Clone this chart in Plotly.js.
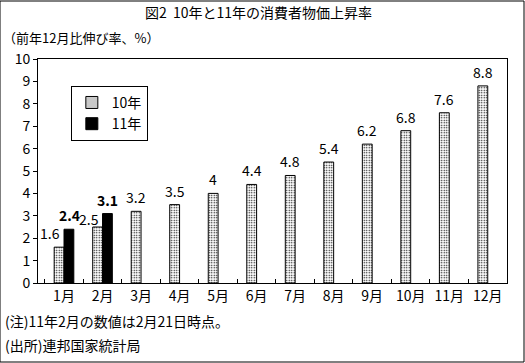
<!DOCTYPE html>
<html><head><meta charset="utf-8">
<script src="https://cdn.plot.ly/plotly-3.0.1.min.js"></script>
<style>html,body{margin:0;padding:0;background:#fff}#c{width:525px;height:363px}</style>
</head><body><div id="c"></div>
<script>
const months = ['1月','2月','3月','4月','5月','6月','7月','8月','9月','10月','11月','12月'];
const cpi2010 = [1.6,2.5,3.2,3.5,4,4.4,4.8,5.4,6.2,6.8,7.6,8.8];
const cpi2011 = [2.4,3.1,null,null,null,null,null,null,null,null,null,null];
const seriesNames = ['10年','11年'];

const F = '"Noto Sans CJK JP", "MS PGothic", sans-serif';
const traces = [
  {type:'bar', name:seriesNames[0], x:months, y:cpi2010,
   marker:{color:'#fff', line:{color:'#000', width:1},
     pattern:{shape:'.', fgcolor:'#000', bgcolor:'#fff', size:2.5, solidity:0.25}}},
  {type:'bar', name:seriesNames[1], x:months, y:cpi2011,
   marker:{color:'#000', line:{color:'#000', width:1}}}
];

// label placement tweaks (pixels)
const extraShift = {'0-0':[-9,0], '0-1':[-9,-6]};
const annotations = [];
[cpi2010, cpi2011].forEach((arr, s) => {
  arr.forEach((v, i) => {
    if (v === null) return;
    const ex = extraShift[s+'-'+i] || [0,0];
    annotations.push({x:months[i], y:v, xref:'x', yref:'y', text:String(v),
      showarrow:false, xshift:(s===0?-5:5)+ex[0], yshift:14+ex[1], yanchor:'middle',
      font:{family:F, size:14, color:'#000', weight:(s===1?'bold':'normal')}});
  });
});
annotations.push(
  {text:'図2  10年と11年の消費者物価上昇率', xref:'paper', yref:'paper', x:0.47, y:1, xanchor:'center', yanchor:'bottom', yshift:35, showarrow:false, font:{family:F,size:14,color:'#000'}},
  {text:'（前年12月比伸び率、%）', xref:'paper', yref:'paper', x:0, y:1, xanchor:'left', yanchor:'middle', xshift:-37, yshift:22, showarrow:false, font:{family:F,size:13,color:'#000'}},
  {text:'(注)11年2月の数値は2月21日時点。', xref:'paper', yref:'paper', x:0, y:0, xanchor:'left', yanchor:'middle', xshift:-35, yshift:-38, showarrow:false, font:{family:F,size:14,color:'#000'}},
  {text:'(出所)連邦国家統計局', xref:'paper', yref:'paper', x:0, y:0, xanchor:'left', yanchor:'middle', xshift:-35, yshift:-62, showarrow:false, font:{family:F,size:14,color:'#000'}}
);

const layout = {
  width:525, height:363,
  margin:{l:38, r:18, t:59, b:80},
  paper_bgcolor:'#fff', plot_bgcolor:'#fff',
  font:{family:F, size:14, color:'#000'},
  barmode:'group', bargap:0.49, bargroupgap:0,
  showlegend:true,
  legend:{x:0.07, y:0.88, xanchor:'left', yanchor:'top', bordercolor:'#000', borderwidth:1,
    bgcolor:'#fff', font:{family:F,size:14,color:'#000'}, itemwidth:30, tracegroupgap:4},
  xaxis:{type:'category', showline:true, linecolor:'#000', linewidth:1, mirror:true,
    ticks:'inside', tickson:'boundaries', ticklen:4, tickcolor:'#000', showgrid:false,
    tickangle:0, tickfont:{family:F,size:14}},
  yaxis:{range:[0,10], dtick:1, showline:true, linecolor:'#000', linewidth:1, mirror:true,
    ticks:'outside', ticklen:4, tickcolor:'#000', showgrid:false, zeroline:false,
    tickfont:{family:F,size:14}},
  annotations:annotations,
  shapes:[{type:'rect', xref:'paper', yref:'paper', x0:-38/469, x1:1+17/469, y0:-79/224, y1:1+58/224,
    line:{color:'#000', width:1}}]
};
Plotly.newPlot('c', traces, layout, {displayModeBar:false, staticPlot:true});
</script></body></html>
